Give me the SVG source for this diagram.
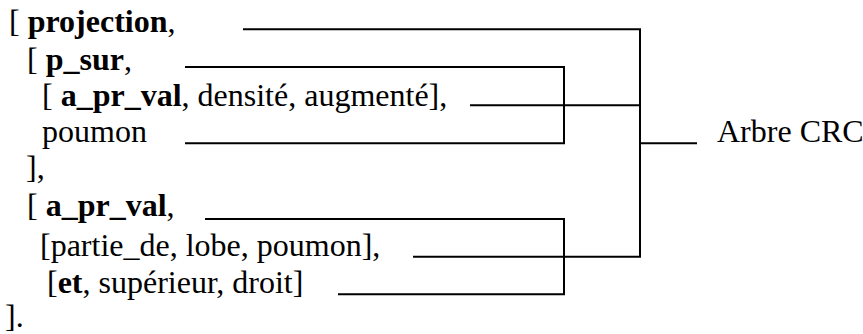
<svg xmlns="http://www.w3.org/2000/svg" width="863" height="334" viewBox="0 0 863 334">
<style>
text { font-family: "Liberation Serif", "Times New Roman", serif; font-size: 32px; fill: #000; }
.b { font-weight: bold; }
.c { fill: none; stroke: #000; stroke-width: 2; stroke-linejoin: miter; stroke-linecap: butt; }
</style>
<rect width="863" height="334" fill="#fff"/>
<g id="n1"><text x="9" y="32">[ <tspan class="b">projection</tspan>,</text></g>
<g id="n2"><text x="27" y="70">[ <tspan class="b">p_sur</tspan>,</text></g>
<g id="n3"><text x="42" y="106">[ <tspan class="b">a_pr_val</tspan>, densité, augmenté],</text></g>
<g id="n4"><text x="42" y="142">poumon</text></g>
<g id="n5"><text x="26" y="178">],</text></g>
<g id="n6"><text x="27" y="216">[ <tspan class="b">a_pr_val</tspan>,</text></g>
<g id="n7"><text x="40" y="256">[partie_de, lobe, poumon],</text></g>
<g id="n8"><text x="47" y="293">[<tspan class="b">et</tspan>, supérieur, droit]</text></g>
<g id="n9"><text x="5" y="327">].</text></g>
<g id="root"><text x="717" y="142">Arbre CRC</text></g>
<g id="connectors">
<polyline class="c" points="243,29.3 640,29.3 640,256.7 413,256.7"/>
<line class="c" x1="470" y1="105.3" x2="640" y2="105.3"/>
<polyline class="c" points="185,67 564,67 564,143.3 185,143.3"/>
<polyline class="c" points="205,219 564,219 564,294.3 338,294.3"/>
<line class="c" x1="640" y1="143.3" x2="697" y2="143.3"/>
</g>
</svg>
